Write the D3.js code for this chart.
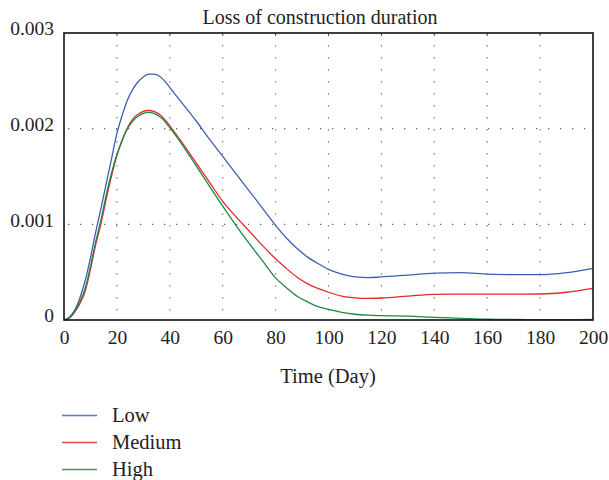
<!DOCTYPE html>
<html><head><meta charset="utf-8">
<script src="https://cdn.jsdelivr.net/npm/d3@7"></script>
<style>body{margin:0;background:#fff}svg{display:block}svg text{font-family:"Liberation Serif","Times New Roman","DejaVu Serif","Noto Serif",serif !important;fill:#222}</style>
</head><body><svg id="c" width="609" height="480"></svg>
<script>
const days = [0,2,4,6,8,10,12,14,16,18,20,22,24,26,28,30,32,34,36,38,40,44,50,55,60,65,70,75,80,84,88,92,96,100,105,110,115,120,130,140,150,160,170,180,190,200];
const low = [0,0.00003,0.0001,0.00023,0.00041,0.00065,0.00092,0.00117,0.00143,0.00169,0.00195,0.00214,0.0023,0.00241,0.00249,0.00254,0.00257,0.00257,0.00255,0.0025,0.00243,0.00229,0.00208,0.00189,0.00171,0.00153,0.00135,0.00117,0.00099,0.00086,0.00075,0.00066,0.00059,0.00053,0.00048,0.00045,0.000442,0.00045,0.00047,0.00049,0.000495,0.00048,0.000475,0.000474,0.000495,0.00054];
const medium = [0,0.00002,0.00008,0.00017,0.0003,0.00053,0.00079,0.00101,0.00127,0.00151,0.00172,0.00188,0.00201,0.0021,0.00215,0.00218,0.00219,0.00218,0.00215,0.0021,0.00203,0.00188,0.00164,0.00144,0.00124,0.00108,0.00093,0.00078,0.00064,0.00054,0.00045,0.00038,0.00033,0.00029,0.00025,0.000232,0.000226,0.00023,0.00025,0.000268,0.00027,0.00027,0.00027,0.000272,0.00029,0.00033];
const high = [0,0.00002,0.00009,0.00019,0.00033,0.00056,0.00082,0.00105,0.00131,0.00154,0.00173,0.00188,0.002,0.00208,0.00213,0.00216,0.00217,0.00216,0.00213,0.00208,0.00201,0.00186,0.00161,0.0014,0.00119,0.00099,0.0008,0.00062,0.00044,0.00034,0.00025,0.00019,0.00014,0.00011,0.00008,0.00006,0.00005,0.000045,0.00004,0.000028,0.000018,0.000008,0.000005,0.000004,0.000004,0.000005];
const seriesNames = ["Low","Medium","High"];
const seriesColors = ["#3d5fb3","#e8262b","#1b8a42"];
const xTicks = [0,20,40,60,80,100,120,140,160,180,200];
const yTicks = [0,0.001,0.002,0.003];
const yTickLabels = ["0","0.001","0.002","0.003"];
const title = "Loss of construction duration";
const xLabel = "Time (Day)";

const FONT = '"Liberation Serif","Times New Roman","DejaVu Serif","Noto Serif",serif';
const svg = d3.select("#c");
const L=64, R=593, T=33, B=320;
const x = d3.scaleLinear().domain([0,200]).range([L,R]);
const y = d3.scaleLinear().domain([0,0.003]).range([B,T]);

// grid
const g = svg.append("g");
g.selectAll(".vg").data(xTicks.slice(1,-1)).join("line")
  .attr("x1",d=>x(d)).attr("x2",d=>x(d)).attr("y1",B-9.5).attr("y2",T)
  .attr("stroke","#666").attr("stroke-width",1.2).attr("stroke-dasharray","1.3,10.7");
g.selectAll(".hg").data(yTicks.slice(1,-1)).join("line")
  .attr("x1",L+4).attr("x2",R).attr("y1",d=>y(d)).attr("y2",d=>y(d))
  .attr("stroke","#666").attr("stroke-width",1.2).attr("stroke-dasharray","1.3,10.7");
g.selectAll(".tt").data(xTicks.slice(1,-1)).join("line")
  .attr("x1",d=>x(d)).attr("x2",d=>x(d)).attr("y1",T).attr("y2",T+3)
  .attr("stroke","#555").attr("stroke-width",1);

// lines
const series = [low,medium,high];
const line = d3.line().x((d,i)=>x(days[i])).y(d=>y(d)).curve(d3.curveMonotoneX);
svg.selectAll(".s").data(series).join("path")
  .attr("d",d=>line(d)).attr("fill","none")
  .attr("stroke",(d,i)=>seriesColors[i]).attr("stroke-width",1.3);

// frame
svg.append("rect").attr("x",L).attr("y",T).attr("width",R-L).attr("height",B-T)
  .attr("fill","none").attr("stroke","#111").attr("stroke-width",1.6);

// axes labels
const xAxis = d3.axisBottom(x).tickValues(xTicks).tickSize(0).tickPadding(10).tickFormat(d3.format("d"));
const xa = svg.append("g").attr("transform",`translate(0,${B})`).call(xAxis).attr("font-family",FONT);
xa.select(".domain").remove();
xa.selectAll("text").attr("font-size",19.5).style("font-family",FONT).attr("fill","#222");
const yAxis = d3.axisLeft(y).tickValues(yTicks).tickSize(0).tickPadding(10).tickFormat((d,i)=>yTickLabels[i]);
const ya = svg.append("g").attr("transform",`translate(${L},0)`).call(yAxis).attr("font-family",FONT);
ya.select(".domain").remove();
ya.selectAll("text").attr("font-size",19.5).style("font-family",FONT).attr("fill","#222").attr("dy","0.1em");

svg.append("text").attr("x",320).attr("y",24).attr("text-anchor","middle").attr("font-size",20).style("font-family",FONT).text(title);
svg.append("text").attr("x",328).attr("y",383).attr("text-anchor","middle").attr("font-size",20.5).style("font-family",FONT).text(xLabel);

// legend
const lg = svg.append("g");
seriesNames.forEach((n,i)=>{
  const yy = 415.5 + i*27;
  lg.append("line").attr("x1",62).attr("x2",97).attr("y1",yy).attr("y2",yy)
    .attr("stroke",seriesColors[i]).attr("stroke-width",1.5).attr("opacity",0.85);
  lg.append("text").attr("x",112).attr("y",yy+6).attr("font-size",20.5).style("font-family",FONT).text(n);
});
</script></body></html>
